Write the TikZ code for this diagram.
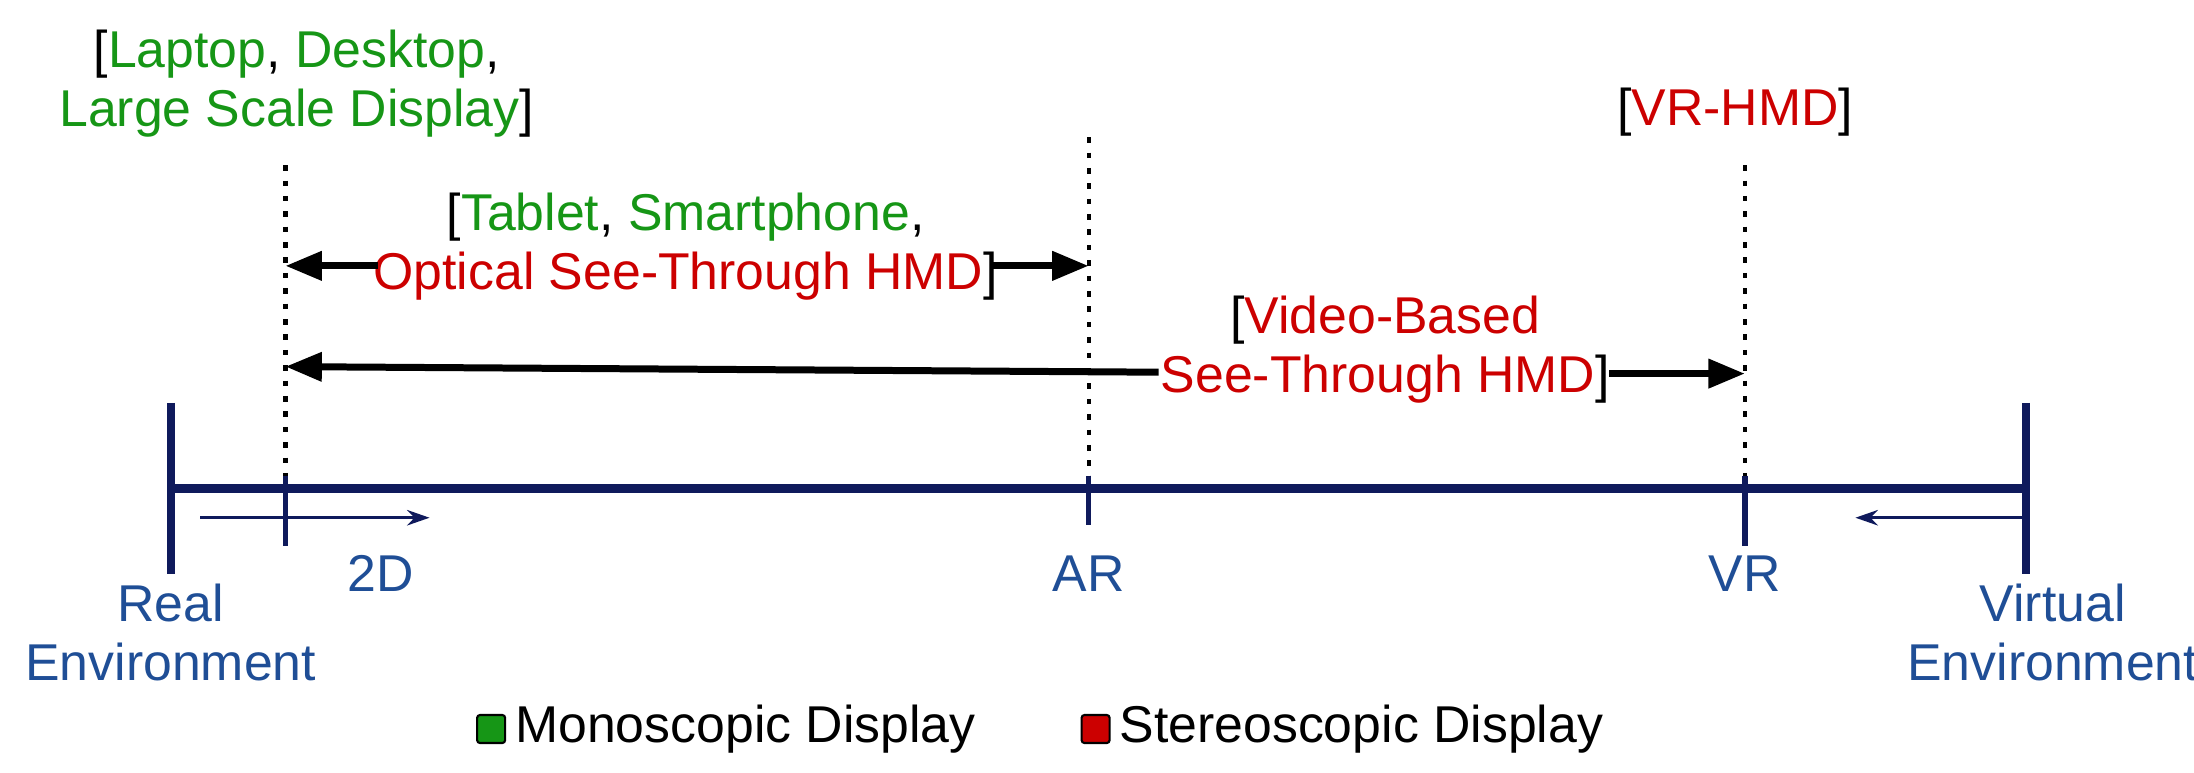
\documentclass[tikz,border=0pt]{standalone}
\usepackage{fontspec}
\setmainfont{Liberation Sans}
\usetikzlibrary{arrows.meta}
\definecolor{navy}{HTML}{0F1A5C}
\definecolor{lblue}{HTML}{1F4E96}
\definecolor{gr}{HTML}{169616}
\definecolor{rd}{HTML}{CC0000}
\begin{document}
\begin{tikzpicture}[x=1pt,y=-1pt,
  txt/.style={font=\fontsize{37}{42}\selectfont,align=center,inner sep=0pt},
  lab/.style={txt,text=lblue},
  axis/.style={navy,line width=6pt},
  tick/.style={navy,line width=4pt},
  dots/.style={line width=3pt,dash pattern=on 4pt off 7pt},
  big/.style={line width=5pt,-{Triangle[length=26pt,width=20pt]}},
  small/.style={navy,line width=2.5pt,-{Stealth[length=16pt,width=11pt]}}]
\useasboundingbox (0,0) rectangle (1568,552);
% axis
\coordinate (L) at (122,349); \coordinate (R) at (1448,349);
\draw[axis] (L) -- (R);
\draw[axis] (122,288) -- (122,410);
\draw[axis] (1448,288) -- (1448,410);
\draw[tick] (204,340) -- (204,390);
\draw[tick] (778,340) -- (778,375);
\draw[tick] (1247,340) -- (1247,390);
\draw[dots] (204,118) -- (204,340);
\draw[dots] (778,98) -- (778,340);
\draw[dots] (1247,118) -- (1247,340);
\coordinate (s1) at (143,370); \coordinate (e1) at (307,370);
\draw[small] (s1) -- (e1);
\coordinate (s2) at (1448,370); \coordinate (e2) at (1326,370);
\draw[small] (s2) -- (e2);
% labels
\node[lab] (real) at (122,452) {Real\\Environment};
\node[lab] (virt) at (1467,452) {Virtual\\Environment};
\node[lab] (d2) at (272,410) {2D};
\node[lab] (ar) at (778,410) {AR};
\node[lab] (vr) at (1247,410) {VR};
% top texts
\node[txt] (lap) at (212,60) {[\textcolor{gr}{Laptop}, \textcolor{gr}{Desktop},\\\textcolor{gr}{Large Scale Display}]};
\node[txt] (tab) at (490,176) {[\textcolor{gr}{Tablet}, \textcolor{gr}{Smartphone},\\\textcolor{rd}{Optical See-Through HMD}]};
\node[txt] (vid) at (990,250) {[\textcolor{rd}{Video-Based}\\\textcolor{rd}{See-Through HMD}]};
\node[txt] (vrh) at (1240,80) {[\textcolor{rd}{VR-HMD}]};
% arrows
\coordinate (a1) at (204,190); \coordinate (a2) at (778,190);
\draw[big] (270,190) -- (a1);
\draw[big] (710,190) -- (a2);
\coordinate (b1) at (204,262); \coordinate (b2) at (1247,267);
\draw[big] (828,266) -- (b1);
\draw[big] (1150,267) -- (b2);
% legend
\node[draw=black,line width=1.5pt,fill=gr,minimum size=20pt,inner sep=0pt,rounded corners=2pt] (g) at (351,521) {};
\node[txt,anchor=west] (gt) at (368,521) {Monoscopic Display};
\node[draw=black,line width=1.5pt,fill=rd,minimum size=20pt,inner sep=0pt,rounded corners=2pt] (r) at (783,521) {};
\node[txt,anchor=west] (rt) at (800,521) {Stereoscopic Display};
\end{tikzpicture}
\end{document}
